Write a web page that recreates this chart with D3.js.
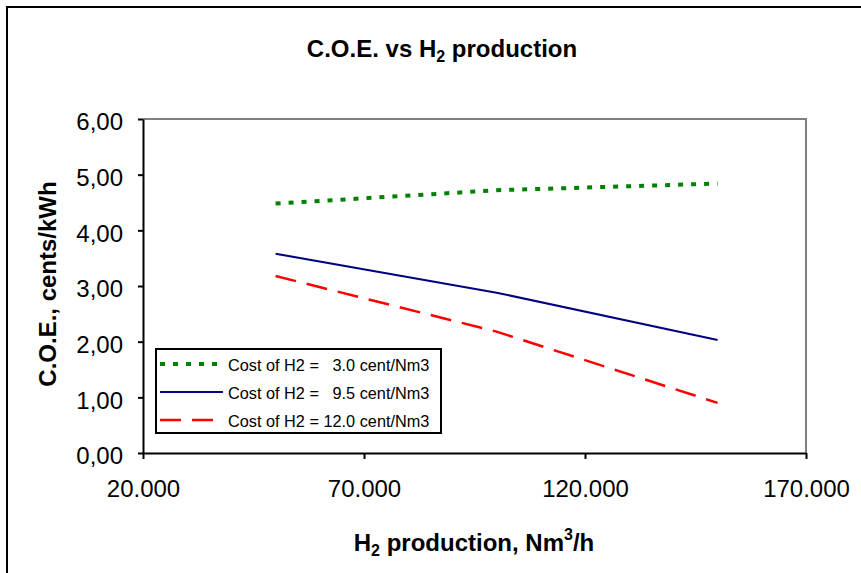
<!DOCTYPE html>
<html>
<head>
<meta charset="utf-8">
<script src="https://cdn.jsdelivr.net/npm/d3@7"></script>
<style>
  body { margin: 0; background: #fff; }
  text { font-family: "Liberation Sans", Arial, sans-serif; }
</style>
</head>
<body>
<svg id="chart"></svg>
<script>
// H2 production (Nm3/h) and cost of electricity per H2 price
const production = [50000, 100000, 150000];
const cost30 = [4.48, 4.72, 4.84];
const cost95 = [3.58, 2.88, 2.03];
const cost120 = [3.18, 2.18, 0.90];
const seriesNames = [
    "Cost of H2 =   3.0 cent/Nm3",
    "Cost of H2 =   9.5 cent/Nm3",
    "Cost of H2 = 12.0 cent/Nm3"
];
const xTicks = [20000, 70000, 120000, 170000];
const yTicks = [0, 1, 2, 3, 4, 5, 6];

const width = 861;
const height = 573;
const plot = { left: 143, right: 806, top: 119, bottom: 453 };

const xScale = d3.scaleLinear()
    .domain([20000, 170000])
    .range([plot.left, plot.right]);

const yScale = d3.scaleLinear()
    .domain([0, 6])
    .range([plot.bottom, plot.top]);

const svg = d3.select("#chart")
    .attr("width", width)
    .attr("height", height);

// outer chart border
svg.append("rect")
    .attr("x", 7).attr("y", 7)
    .attr("width", width + 10).attr("height", height + 10)
    .attr("fill", "none")
    .attr("stroke", "#000")
    .attr("stroke-width", 2);

// plot area frame (grey top/right)
svg.append("path")
    .attr("d", `M${plot.left},${plot.top}H${plot.right}V${plot.bottom}`)
    .attr("fill", "none")
    .attr("stroke", "#808080")
    .attr("stroke-width", 2);

// number formats: comma decimal, dot thousands
const fmtY = d => d3.format(".2f")(d).replace(".", ",");
const fmtX = d => d3.format(",")(d).replace(/,/g, ".");

const xAxis = d3.axisBottom(xScale)
    .tickValues(xTicks)
    .tickFormat(fmtX)
    .tickSize(6)
    .tickSizeOuter(0)
    .tickPadding(21);

const yAxis = d3.axisLeft(yScale)
    .tickValues(yTicks)
    .tickFormat(fmtY)
    .tickSize(5)
    .tickSizeOuter(0)
    .tickPadding(15);

const gx = svg.append("g")
    .attr("transform", `translate(0, ${plot.bottom})`)
    .call(xAxis);

const gy = svg.append("g")
    .attr("transform", `translate(${plot.left}, 0)`)
    .call(yAxis);

[gx, gy].forEach(g => {
    g.select(".domain").attr("stroke", "#000").attr("stroke-width", 2);
    g.selectAll(".tick line").attr("stroke", "#000").attr("stroke-width", 2);
    g.selectAll(".tick text")
        .attr("fill", "#000")
        .style("font-size", "24px")
        .style("font-family", "Liberation Sans, Arial, sans-serif");
});
gy.selectAll(".tick text").attr("dy", "0.45em");

// series lines
const series = [
    { values: cost30, color: "#008000", width: 4, dash: "5,8" },
    { values: cost95, color: "#000080", width: 2, dash: null },
    { values: cost120, color: "#ff0000", width: 2.5, dash: "21,11" }
];

const line = d3.line()
    .x(d => xScale(d[0]))
    .y(d => yScale(d[1]));

series.forEach(s => {
    svg.append("path")
        .datum(production.map((x, i) => [x, s.values[i]]))
        .attr("d", line)
        .attr("fill", "none")
        .attr("stroke", s.color)
        .attr("stroke-width", s.width)
        .attr("stroke-dasharray", s.dash);
});

// legend
const legend = svg.append("g");
legend.append("rect")
    .attr("x", 156).attr("y", 349)
    .attr("width", 285).attr("height", 84)
    .attr("fill", "#fff")
    .attr("stroke", "#000")
    .attr("stroke-width", 2);

series.forEach((s, i) => {
    const y = 364 + i * 28;
    legend.append("line")
        .attr("x1", 160).attr("x2", 223)
        .attr("y1", y).attr("y2", y)
        .attr("stroke", s.color)
        .attr("stroke-width", s.width)
        .attr("stroke-dasharray", s.dash);
    legend.append("text")
        .attr("x", 228)
        .attr("y", y + 7)
        .style("font-size", "16.3px")
        .style("white-space", "pre")
        .attr("xml:space", "preserve")
        .text(seriesNames[i]);
});

// title
const title = svg.append("text")
    .attr("x", 442)
    .attr("y", 57)
    .style("text-anchor", "middle")
    .style("font-size", "24px")
    .style("font-weight", "bold");
title.append("tspan").text("C.O.E. vs H");
title.append("tspan").attr("dy", 5).style("font-size", "16px").text("2");
title.append("tspan").attr("dy", -5).text(" production");

// y-axis label
svg.append("text")
    .attr("transform", "rotate(-90)")
    .attr("x", -284)
    .attr("y", 56)
    .style("text-anchor", "middle")
    .style("font-size", "24px")
    .style("font-weight", "bold")
    .text("C.O.E., cents/kWh");

// x-axis label
const xLabel = svg.append("text")
    .attr("x", 474)
    .attr("y", 551)
    .style("text-anchor", "middle")
    .style("font-size", "24px")
    .style("font-weight", "bold");
xLabel.append("tspan").text("H");
xLabel.append("tspan").attr("dy", 5).style("font-size", "16px").text("2");
xLabel.append("tspan").attr("dy", -5).text(" production, Nm");
xLabel.append("tspan").attr("dy", -11).style("font-size", "16px").text("3");
xLabel.append("tspan").attr("dy", 11).text("/h");
</script>
</body>
</html>
